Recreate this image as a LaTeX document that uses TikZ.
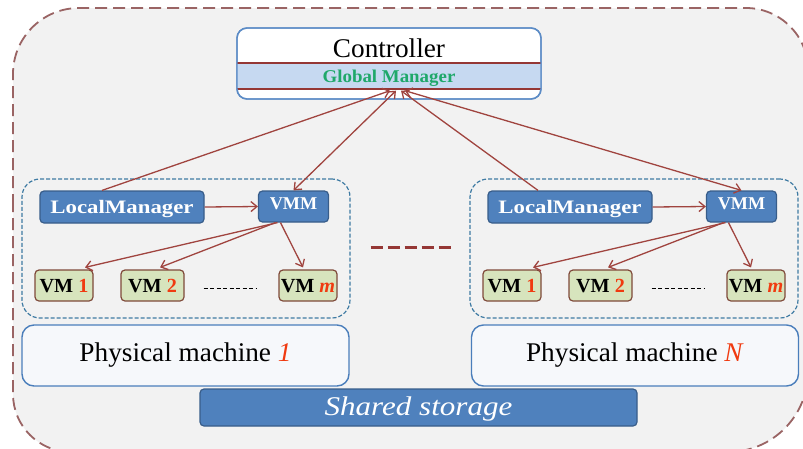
\documentclass[tikz,border=0pt]{standalone}
\usepackage{fontspec}
\setmainfont{Liberation Serif}
\newfontfamily\rmtext[FakeStretch=1.01]{Liberation Serif}
\newfontfamily\lmfont[FakeStretch=1.2]{Liberation Serif}
\newfontfamily\gmfont[FakeStretch=1.05]{Liberation Serif}
\newfontfamily\ssfont[FakeStretch=1.15]{Liberation Serif}
\usetikzlibrary{arrows.meta,calc}

\definecolor{bgfill}{HTML}{F2F2F2}
\definecolor{outerdash}{HTML}{9A6464}
\definecolor{arrowred}{HTML}{A0443F}
\definecolor{ctrlblue}{HTML}{5B8BC6}
\definecolor{boxblue}{HTML}{4F81BD}
\definecolor{boxblueedge}{HTML}{385D8A}
\definecolor{ctrlband}{HTML}{C6D9F1}
\definecolor{bandline}{HTML}{953735}
\definecolor{gmgreen}{HTML}{1FA86A}
\definecolor{vmfill}{HTML}{D7E4BD}
\definecolor{vmedge}{HTML}{7F4A3A}
\definecolor{numred}{HTML}{F03A10}
\definecolor{pmdash}{HTML}{3F7BA3}
\definecolor{pmedge}{HTML}{4A7EBB}
\definecolor{pmfill}{HTML}{F6F8FB}

\tikzset{
  outerline/.style={draw=outerdash, line width=1.8pt, dash pattern=on 12pt off 6pt, fill=bgfill},
  ctrlbox/.style={draw=ctrlblue, line width=1.4pt, rounded corners=10pt,
    minimum width=304pt, minimum height=71pt, inner sep=0pt},
  grpbox/.style={draw=pmdash, line width=1.2pt, dash pattern=on 4pt off 2pt,
    rounded corners=18pt, minimum width=328pt, minimum height=139pt, inner sep=0pt},
  lmbox/.style={draw=boxblueedge, line width=1.2pt, fill=boxblue, rounded corners=4pt,
    text=white, font=\lmfont\bfseries\fontsize{19}{19}\selectfont,
    minimum width=164pt, text height=22pt, text depth=10pt, inner sep=0pt},
  vmmbox/.style={draw=boxblueedge, line width=1.2pt, fill=boxblue, rounded corners=4pt,
    text=white, font=\rmtext\bfseries\fontsize{18}{18}\selectfont,
    minimum width=70pt, text height=18pt, text depth=13pt, inner sep=0pt},
  vmbox/.style={draw=vmedge, line width=1.2pt, fill=vmfill, rounded corners=4pt,
    font=\rmtext\bfseries\fontsize{20}{20}\selectfont,
    text height=22pt, text depth=9pt, inner sep=0pt},
  pmbox/.style={draw=pmedge, line width=1.4pt, fill=pmfill, rounded corners=12pt,
    minimum width=327pt, minimum height=61pt, inner sep=0pt,
    font=\rmtext\fontsize{27}{27}\selectfont},
  storebox/.style={draw=boxblueedge, line width=1.2pt, fill=boxblue, rounded corners=4pt,
    text=white, font=\ssfont\itshape\fontsize{27}{27}\selectfont,
    minimum width=437pt, text height=26pt, text depth=11pt, inner sep=0pt},
  arr/.style={draw=arrowred, line width=1.3pt, -{Straight Barb[length=6pt,width=10pt]}},
  biarr/.style={draw=arrowred, line width=1.3pt,
    {Straight Barb[length=6pt,width=10pt]}-{Straight Barb[length=6pt,width=10pt]}},
  vmdots/.style={draw=black, line width=0.8pt, dash pattern=on 4pt off 2.5pt},
  middots/.style={draw=bandline, line width=3pt, dash pattern=on 12pt off 5pt},
}

\begin{document}
\begin{tikzpicture}[x=1pt,y=-1pt]
\useasboundingbox (0,0) rectangle (803,448);
\clip (0,0) rectangle (803,448);
\fill[white] (0,0) rectangle (803,448);

% cloud boundary, its corners rounded unevenly
\path[outerline] (13,200)
  [rounded corners=58pt] -- (13,452)
  [rounded corners=80pt] -- (808,452)
  [rounded corners=62pt] -- (808,8)
  [rounded corners=66pt] -- (13,8)
  [sharp corners] -- cycle;

% controller with its global manager band
\node[ctrlbox, fill=white] (ctrl) at (389,63.5) {};
\begin{scope}
  \clip[rounded corners=10pt] (237,28) rectangle (541,99);
  \fill[ctrlband] (237,63) rectangle (541,89);
\end{scope}
\draw[bandline, line width=1.2pt] (237,63) -- (541,63);
\draw[bandline, line width=1.2pt] (237,89) -- (541,89);
\node[ctrlbox] at (389,63.5) {};
\node[anchor=base, font=\rmtext\fontsize{27}{27}\selectfont] (ctrltext) at (389,57) {Controller};
\node[anchor=base, text=gmgreen, font=\gmfont\bfseries\fontsize{18}{18}\selectfont] (gm) at (389,82) {Global Manager};

% physical machines, each hosting a local manager, a VMM and its VMs
\foreach \i/\dx in {1/0,2/448}{
  \node[grpbox] (grp\i) at ({186+\dx},248.5) {};
  \node[lmbox, anchor=base] (lm\i) at ({122+\dx},213) {LocalManager};
  \node[vmmbox, anchor=base] (vmm\i) at ({293.5+\dx},209) {VMM};
  \node[vmbox, anchor=base, minimum width=58pt] (vma\i) at ({64+\dx},292) {VM \textcolor{numred}{1}};
  \node[vmbox, anchor=base, minimum width=63pt] (vmb\i) at ({152.5+\dx},292) {VM \textcolor{numred}{2}};
  \node[vmbox, anchor=base, minimum width=58pt] (vmc\i) at ({308+\dx},292) {VM \textcolor{numred}{\textit{m}}};
  \draw[arr] (lm\i.east) -- (vmm\i.west);
  \draw[arr] ([xshift=-16pt]vmm\i.south) -- ([xshift=21pt,yshift=2pt]vma\i.north);
  \draw[arr] ([xshift=-18pt]vmm\i.south) -- ([xshift=7.5pt,yshift=2pt]vmb\i.north);
  \draw[arr] ([xshift=-13pt]vmm\i.south) -- ([xshift=-5pt,yshift=2pt]vmc\i.north);
  \draw[vmdots, shorten <=19pt, shorten >=22pt] ([yshift=-2.5pt]vmb\i.east) -- ([yshift=-2.5pt]vmc\i.west);
}

% links to the controller
\draw[arr] ([xshift=-20pt]lm1.north) -- ([xshift=1pt,yshift=9pt]ctrl.south);
\draw[biarr] ([xshift=7pt,yshift=9pt]ctrl.south) -- (vmm1.north);
\draw[arr] ([xshift=-32pt]lm2.north) -- ([xshift=12pt,yshift=9pt]ctrl.south);
\draw[biarr] ([xshift=16pt,yshift=9pt]ctrl.south) -- (vmm2.north);

% more machines in between
\draw[middots, shorten <=20pt, shorten >=18pt] ([yshift=1.5pt]grp1.east) -- ([yshift=1.5pt]grp2.west);

% physical machine labels
\node[pmbox] (pm1) at (185.5,355.5) {Physical machine \textcolor{numred}{\textit{1}}};
\node[pmbox] (pm2) at (635,355.5) {Physical machine \textcolor{numred}{\textit{N}}};

% shared storage
\node[storebox, anchor=base] (store) at (418.5,415) {Shared storage};
\end{tikzpicture}
\end{document}
